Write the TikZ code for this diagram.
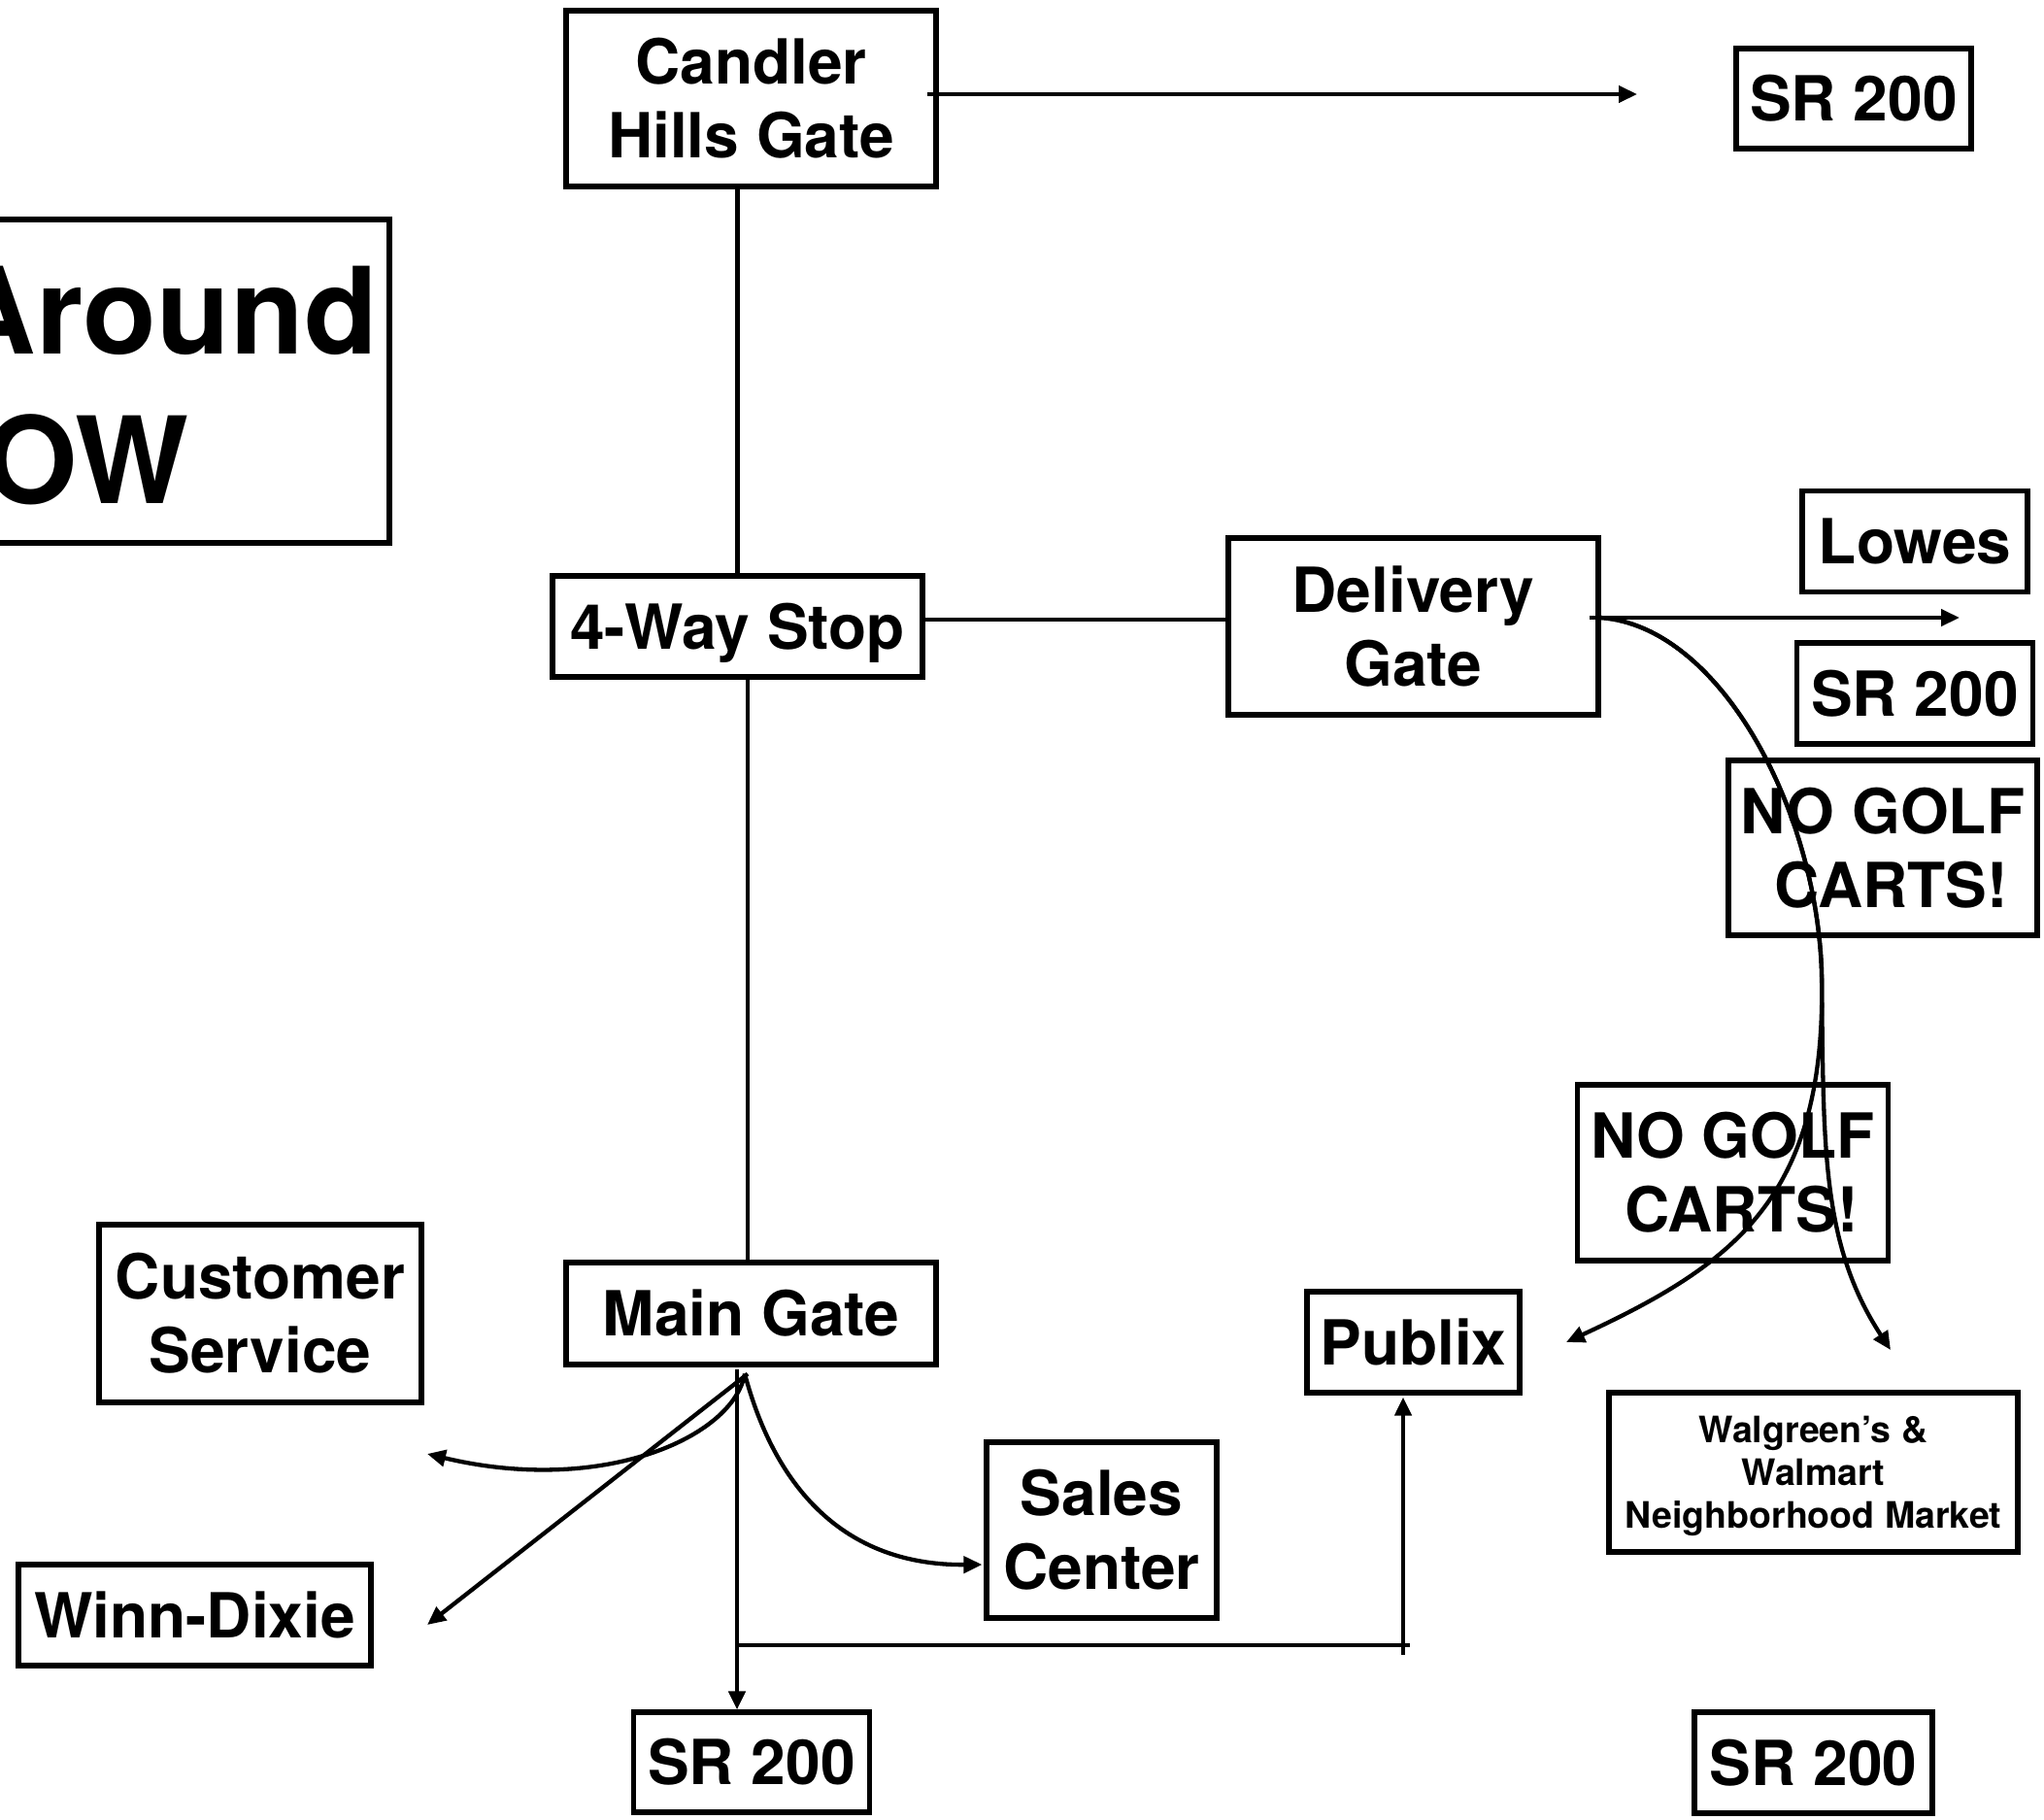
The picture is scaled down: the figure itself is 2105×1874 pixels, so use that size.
\documentclass[tikz,border=0pt]{standalone}
\usepackage{fontspec}
\setmainfont{TeX Gyre Heros}
\usetikzlibrary{arrows.meta}
\begin{document}
\begin{tikzpicture}[x=1pt,y=-1pt,
  box/.style={draw, line width=5.2pt, inner sep=0pt, align=center,
    font=\bfseries\fontsize{64}{76}\selectfont},
  small/.style={font=\bfseries\fontsize{37.5}{44}\selectfont},
  titletext/.style={inner sep=0pt, font=\bfseries\fontsize{124}{150}\selectfont},
  conn/.style={line width=4.3pt},
  arr/.style={conn, -{Triangle[length=19pt,width=17pt]}}]
\useasboundingbox (0,0) rectangle (2105,1874);
\fill[white] (0,0) rectangle (2105,1874);

% title
\node[draw, line width=5.2pt, inner sep=0pt, minimum width=461pt, minimum height=333pt] (titlebox) at (170.5,392.5) {};
\node[titletext, anchor=base east] (title1) at (389,364) {Around};
\node[titletext, anchor=base east] (title2) at (195,518) {OW};

% boxes
\node[box, minimum width=381pt, minimum height=181pt] (candler) at (773.5,101.5) {Candler\\Hills Gate};
\node[box, minimum width=242pt, minimum height=103pt] (srA) at (1909,101.5) {SR 200};
\node[box, minimum width=381pt, minimum height=104pt, text height=46pt, text depth=0pt] (stop) at (759.5,645) {4-Way Stop};
\node[box, minimum width=381pt, minimum height=182pt] (delivery) at (1455.5,645) {Delivery\\Gate};
\node[box, minimum width=232pt, minimum height=104pt] (lowes) at (1972,557.5) {Lowes};
\node[box, minimum width=243pt, minimum height=104pt] (srB) at (1972,714) {SR 200};
\node[box, minimum width=318pt, minimum height=180pt] (nogolfA) at (1939,873) {NO GOLF\\\hspace*{0.278em}CARTS!};
\node[box, minimum width=320pt, minimum height=181pt] (nogolfB) at (1784.5,1207.5) {NO GOLF\\\hspace*{0.278em}CARTS!};
\node[box, minimum width=219pt, minimum height=104pt] (publix) at (1455.5,1382) {Publix};
\node[box, small, minimum width=421pt, minimum height=164pt] (walgreens) at (1867.5,1516) {Walgreen’s \&\\Walmart\\\raisebox{0pt}[\height][0pt]{Neighborhood Market}};
\node[box, minimum width=245pt, minimum height=104pt] (srD) at (1867.5,1815) {SR 200};
\node[box, minimum width=237pt, minimum height=181pt] (sales) at (1134.5,1575.5) {Sales\\Center};
\node[box, minimum width=332pt, minimum height=183pt] (customer) at (268,1352.5) {Customer\\Service};
\node[box, minimum width=381pt, minimum height=105pt] (maingate) at (773.5,1352.5) {Main Gate};
\node[box, minimum width=363pt, minimum height=104pt] (winn) at (200.5,1663) {Winn-Dixie};
\node[box, minimum width=243pt, minimum height=103pt] (srC) at (774,1814.5) {SR 200};

% free ends
\coordinate (candlerEnd) at (1686,97);
\coordinate (deliveryEnd) at (2018,636);
\coordinate (custEnd) at (440,1497);
\coordinate (winnEnd) at (440,1673);
\coordinate (walEnd) at (1947,1390);
\coordinate (pubEnd) at (1613,1382);
\coordinate (bend) at (1876,1000);
\coordinate (jL) at (759,1694);
\coordinate (jR) at (1452,1694);
\coordinate (pubFoot) at (1445,1704);
\coordinate (mgout) at ([xshift=-6.5pt,yshift=-7pt]maingate.south);
\coordinate (dgout) at ([yshift=9pt]delivery.east);

% connectors
\draw[arr] ([xshift=-12pt,yshift=4.5pt]candler.east) -- (candlerEnd);
\draw[conn] ([xshift=-14pt,yshift=5pt]candler.south) -- ([yshift=-4pt]stop.north);
\draw[conn] ([yshift=7pt]stop.east) -- ([yshift=7pt]delivery.west);
\draw[conn] ([xshift=10.5pt]stop.south) -- ([xshift=-3.5pt]maingate.north);
\draw[arr] ([xshift=-12pt]dgout) -- (deliveryEnd);
\draw[arr] (dgout) .. controls (1770,645) and (1870,830) .. (bend)
  .. controls (1878,1180) and (1875,1280) .. (walEnd);
\draw[arr] (dgout) .. controls (1770,645) and (1870,830) .. (bend)
  .. controls (1882,1230) and (1790,1300) .. (pubEnd);

\draw[arr] (mgout) .. controls (755,1480) and (620,1540) .. (custEnd);
\draw[arr] ([xshift=3pt]mgout) -- (winnEnd);
\draw[arr] (mgout) .. controls (795,1520) and (860,1612) .. ([xshift=-2pt,yshift=-35.5pt]sales.west);
\draw[arr] ([xshift=-14.5pt,yshift=-2pt]maingate.south) -- ([xshift=-15pt]srC.north);
\draw[conn] (jL) -- (jR);
\draw[arr] (pubFoot) -- ([xshift=-10.5pt,yshift=-2pt]publix.south);
\end{tikzpicture}
\end{document}
